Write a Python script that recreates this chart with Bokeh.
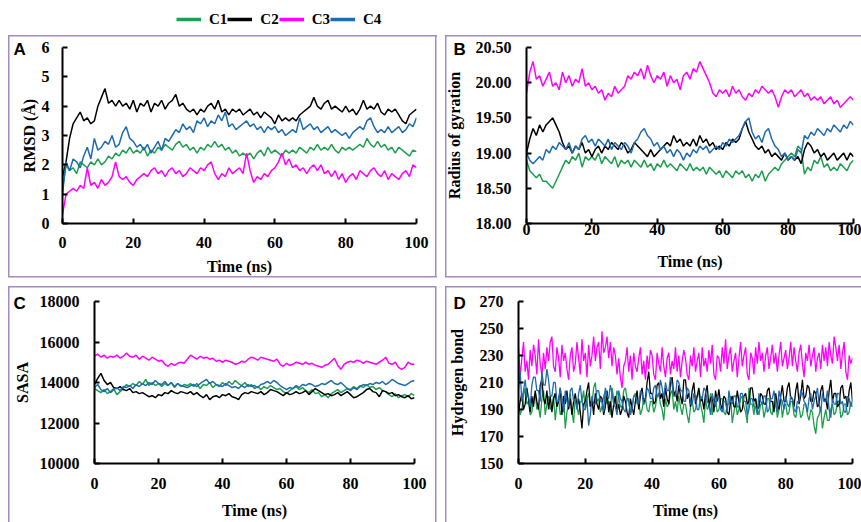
from bokeh.plotting import figure
from bokeh.layouts import column, row
from bokeh.models import Range1d, FixedTicker, Legend, LegendItem
from bokeh.embed import file_html
from bokeh.resources import INLINE

# ---------------- data ----------------
time_ns = list(range(0, 101))                 # 1 ns steps (panels A-C)
time_hb = [i * 0.5 for i in range(201)]       # 0.5 ns steps (panel D)
series_names = ["C1", "C2", "C3", "C4"]
series_colors = ["#1e9e4f", "#000000", "#ff00ff", "#1f6bb0"]

x_ticks = [0, 20, 40, 60, 80, 100]
x_tick_labels = ["0", "20", "40", "60", "80", "100"]

# Panel A : RMSD
rmsd_ticks = [0, 1, 2, 3, 4, 5, 6]
rmsd_tick_labels = ["0", "1", "2", "3", "4", "5", "6"]
rmsd_c1 = [1.2, 2.0, 1.8, 1.9, 1.7, 2.1, 2.0, 1.9, 2.1, 2.0, 2.2, 2.0, 2.1, 2.3, 2.2, 2.4, 2.3, 2.5, 2.4, 2.6,
           2.4, 2.5, 2.4, 2.6, 2.3, 2.5, 2.4, 2.6, 2.5, 2.7, 2.6, 2.5, 2.7, 2.8, 2.6, 2.7, 2.5, 2.6, 2.4, 2.6,
           2.5, 2.7, 2.6, 2.8, 2.6, 2.7, 2.5, 2.6, 2.4, 2.5, 2.3, 2.4, 2.3, 2.4, 2.2, 2.4, 2.5, 2.3, 2.6, 2.4,
           2.5, 2.4, 2.3, 2.5, 2.4, 2.5, 2.4, 2.6, 2.5, 2.4, 2.6, 2.5, 2.7, 2.5, 2.6, 2.5, 2.7, 2.5, 2.4, 2.6,
           2.5, 2.6, 2.5, 2.6, 2.7, 2.6, 2.9, 2.7, 2.6, 2.8, 2.6, 2.7, 2.5, 2.6, 2.4, 2.6, 2.5, 2.4, 2.3, 2.5,
           2.45]
rmsd_c2 = [1.6, 2.1, 2.9, 3.4, 3.6, 3.8, 3.5, 3.6, 3.4, 3.5, 4.0, 4.3, 4.6, 4.1, 4.2, 4.0, 4.2, 4.0, 4.1, 3.9,
           4.2, 3.8, 4.1, 4.0, 4.2, 3.8, 4.1, 4.0, 4.2, 3.9, 4.1, 4.2, 4.4, 4.0, 4.1, 3.9, 3.8, 3.9, 3.7, 3.9,
           3.8, 4.0, 4.1, 3.9, 4.2, 3.8, 3.9, 3.7, 3.9, 3.8, 3.9, 3.7, 3.8, 3.9, 3.7, 3.8, 3.6, 3.8, 3.7, 3.6,
           3.4, 3.7, 3.5, 3.6, 3.5, 3.6, 3.5, 3.7, 3.8, 3.9, 4.0, 4.3, 4.0, 3.9, 4.1, 4.2, 3.9, 4.0, 3.9, 3.8,
           4.0, 3.8, 3.9, 3.7, 3.9, 4.2, 3.9, 4.0, 3.9, 4.1, 3.8, 3.7, 3.9, 3.8, 3.9, 3.7, 3.5, 3.4, 3.7, 3.8,
           3.9]
rmsd_c3 = [0.3, 1.0, 1.1, 1.2, 1.1, 1.3, 1.2, 1.9, 1.3, 1.4, 1.2, 1.5, 1.3, 1.4, 1.6, 2.1, 1.6, 1.5, 1.6, 1.4,
           1.3, 1.5, 1.6, 1.7, 1.6, 1.8, 1.9, 1.7, 1.8, 1.6, 1.8, 1.9, 1.7, 1.8, 1.6, 1.7, 1.9, 1.8, 1.7, 1.9,
           1.8, 2.0, 2.1, 1.7, 1.5, 1.7, 1.6, 1.9, 1.7, 1.8, 1.9, 1.7, 2.4, 1.8, 1.4, 1.6, 1.5, 1.7, 1.6, 1.8,
           1.9, 2.1, 2.4, 2.0, 2.2, 1.9, 2.0, 1.8, 1.9, 1.7, 1.9, 2.0, 1.8, 2.0, 1.7, 1.8, 1.6, 1.8, 1.5, 1.7,
           1.4, 1.6, 1.7, 1.5, 1.8, 1.7, 1.6, 1.8, 1.9, 1.7, 1.6, 1.8, 1.5, 1.7, 1.6, 1.5, 1.7, 1.8, 1.6, 2.0,
           1.9]
rmsd_c4 = [1.0, 2.1, 1.8, 2.2, 2.1, 1.9, 2.3, 2.6, 2.2, 2.9, 2.5, 2.6, 2.8, 2.7, 3.0, 2.6, 2.7, 3.1, 3.3, 2.9,
           2.8, 2.6, 2.7, 2.5, 2.7, 2.4, 2.6, 2.8, 2.5, 2.9, 2.8, 3.0, 3.2, 3.1, 3.4, 3.2, 3.3, 3.1, 3.5, 3.4,
           3.6, 3.3, 3.5, 3.4, 3.7, 3.5, 3.8, 3.3, 3.4, 3.2, 3.3, 3.4, 3.5, 3.3, 3.4, 3.2, 3.3, 3.1, 3.3, 3.2,
           3.3, 3.1, 3.2, 3.0, 3.1, 3.2, 3.1, 3.6, 3.2, 3.3, 3.4, 3.2, 3.3, 3.1, 3.2, 3.3, 3.1, 3.2, 3.1, 3.0,
           3.1, 2.9, 3.1, 3.2, 3.3, 3.2, 3.5, 3.6, 3.3, 3.1, 3.2, 3.1, 3.3, 3.1, 3.2, 3.3, 3.1, 3.2, 3.4, 3.3,
           3.6]

# Panel B : radius of gyration
rg_ticks = [18.0, 18.5, 19.0, 19.5, 20.0, 20.5]
rg_tick_labels = ["18.00", "18.50", "19.00", "19.50", "20.00", "20.50"]
rg_c1 = [18.9, 18.75, 18.7, 18.65, 18.7, 18.6, 18.6, 18.55, 18.5, 18.6, 18.7, 18.8, 18.9, 18.85, 18.95, 18.9, 19.0, 18.8, 18.95, 18.9,
         18.95, 18.9, 19.0, 18.85, 18.95, 18.9, 18.85, 18.95, 18.8, 18.9, 18.85, 18.9, 18.8, 18.9, 18.85, 18.8, 18.9, 18.8, 18.85, 18.75,
         18.85, 18.8, 18.9, 18.8, 18.85, 18.8, 18.75, 18.85, 18.8, 18.75, 18.85, 18.75, 18.8, 18.75, 18.8, 18.7, 18.8, 18.75, 18.7, 18.75,
         18.65, 18.75, 18.7, 18.65, 18.75, 18.7, 18.75, 18.65, 18.7, 18.6, 18.7, 18.65, 18.75, 18.6, 18.7, 18.75, 18.8, 18.75, 18.85, 18.9,
         18.95, 19.0, 18.95, 19.1, 19.05, 18.7, 18.8, 18.75, 18.9, 18.85, 18.95, 18.8, 18.85, 18.75, 18.8, 18.75, 18.85, 18.8, 18.75, 18.85,
         18.9]
rg_c2 = [19.0, 19.2, 19.35, 19.25, 19.4, 19.3, 19.4, 19.45, 19.5, 19.4, 19.3, 19.15, 19.05, 19.1, 19.0, 19.1, 19.05, 19.15, 19.0, 19.05,
         18.95, 19.05, 19.1, 19.0, 19.1, 19.05, 19.15, 19.1, 19.05, 19.15, 19.1, 19.0, 19.05, 19.15, 19.1, 19.05, 19.0, 18.95, 19.05, 18.95,
         19.0, 19.05, 19.1, 19.15, 19.1, 19.25, 19.15, 19.2, 19.1, 19.15, 19.1, 19.2, 19.1, 19.25, 19.15, 19.2, 19.1, 19.15, 19.05, 19.1,
         19.05, 19.15, 19.1, 19.2, 19.15, 19.2, 19.35, 19.45, 19.3, 19.2, 19.1, 19.05, 19.1, 19.0, 19.05, 18.95, 19.0, 18.95, 18.9, 19.0,
         18.9, 18.95, 18.9, 18.95, 18.85, 19.05, 19.15, 19.1, 19.0, 19.05, 18.95, 19.0, 18.9, 18.95, 19.0, 18.9, 18.95, 19.0, 18.9, 19.0,
         18.95]
rg_c3 = [19.85, 20.15, 20.3, 20.05, 20.1, 19.95, 20.05, 20.15, 19.95, 20.0, 19.9, 20.15, 20.0, 20.1, 19.95, 20.05, 20.0, 20.2, 19.95, 20.0,
         19.9, 19.95, 19.85, 19.9, 19.75, 19.85, 19.8, 19.95, 19.85, 19.9, 19.95, 20.1, 20.05, 20.15, 20.1, 20.2, 20.05, 20.25, 20.1, 20.0,
         20.1, 20.05, 20.15, 19.95, 20.1, 20.0, 20.05, 19.9, 20.1, 20.15, 20.05, 20.2, 20.15, 20.3, 20.2, 20.1, 20.0, 19.85, 19.8, 19.9,
         19.85, 19.9, 19.8, 19.95, 19.85, 19.9, 19.8, 19.75, 19.85, 19.8, 19.9, 19.85, 19.95, 19.9, 19.85, 19.9, 19.8, 19.65, 19.8, 19.9,
         19.85, 19.9, 19.8, 19.85, 19.9, 19.8, 19.85, 19.75, 19.8, 19.75, 19.8, 19.7, 19.75, 19.8, 19.7, 19.75, 19.65, 19.7, 19.75, 19.8,
         19.75]
rg_c4 = [19.0, 18.9, 18.85, 18.9, 18.95, 18.9, 19.05, 19.0, 19.1, 19.05, 19.15, 19.1, 19.05, 19.15, 19.0, 19.1, 19.05, 19.2, 19.25, 19.15,
         19.2, 19.1, 19.2, 19.15, 19.1, 19.2, 19.05, 19.15, 19.1, 19.05, 19.15, 19.1, 19.0, 19.15, 19.2, 19.3, 19.35, 19.25, 19.2, 19.1,
         19.15, 19.05, 19.1, 19.0, 19.05, 18.95, 19.05, 19.0, 18.9, 19.0, 18.95, 19.05, 19.0, 19.1, 19.05, 19.1, 19.0, 19.05, 19.1, 19.05,
         19.15, 19.1, 19.2, 19.15, 19.2, 19.25, 19.35, 19.45, 19.5, 19.3, 19.2, 19.25, 19.15, 19.3, 19.35, 19.2, 19.1, 19.05, 18.95, 19.0,
         18.9, 18.95, 18.9, 19.05, 19.0, 19.25, 19.2, 19.3, 19.25, 19.35, 19.3, 19.25, 19.35, 19.3, 19.4, 19.35, 19.3, 19.4, 19.35, 19.45,
         19.4]

# Panel C : SASA
sasa_ticks = [10000, 12000, 14000, 16000, 18000]
sasa_tick_labels = ["10000", "12000", "14000", "16000", "18000"]
sasa_c1 = [13700, 13600, 13500, 13650, 13450, 13550, 13700, 13400, 13550, 13700, 13900, 13800, 13950, 13850, 14050, 13900, 14150, 13850, 14000, 13850,
           13950, 13800, 13950, 13850, 14000, 13750, 13950, 13800, 13900, 13850, 13950, 13800, 13950, 13700, 13900, 13850, 14000, 13750, 13900, 13800,
           14000, 13850, 14050, 13900, 14100, 13950, 13850, 14000, 13800, 13900, 13700, 13800, 13650, 13800, 13700, 13850, 13750, 13650, 13700, 13550,
           13450, 13600, 13700, 13800, 13650, 13750, 13600, 13500, 13650, 13450, 13500, 13300, 13400, 13250, 13450, 13550, 13650, 13500, 13600, 13700,
           13650, 13800, 13700, 13850, 13750, 13900, 13750, 13800, 13650, 13750, 13600, 13550, 13400, 13300, 13450, 13250, 13350, 13400, 13300, 13450,
           13350]
sasa_c2 = [13900, 14200, 14450, 14100, 13900, 14000, 13750, 13700, 13800, 13650, 13600, 13700, 13500, 13550, 13450, 13500, 13400, 13300, 13350, 13250,
           13400, 13350, 13500, 13450, 13600, 13500, 13450, 13550, 13500, 13450, 13550, 13400, 13500, 13350, 13250, 13400, 13150, 13300, 13350, 13250,
           13400, 13350, 13450, 13300, 13250, 13150, 13400, 13500, 13450, 13550, 13500, 13450, 13550, 13400, 13500, 13650, 13600, 13550, 13450, 13350,
           13500, 13400, 13450, 13550, 13450, 13500, 13600, 13400, 13550, 13700, 13600, 13500, 13400, 13450, 13350, 13400, 13500, 13350, 13450, 13550,
           13400, 13250, 13300, 13400, 13500, 13650, 13700, 13550, 13500, 13300, 13600, 13550, 13450, 13500, 13350, 13400, 13300, 13250, 13350, 13200,
           13250]
sasa_c3 = [15300, 15400, 15250, 15350, 15200, 15300, 15250, 15350, 15200, 15300, 15450, 15300, 15250, 15350, 15150, 15300, 15200, 15100, 15250, 15150,
           15050, 15100, 14900, 14800, 14950, 14850, 14950, 15000, 14950, 15150, 15350, 15250, 15150, 15300, 15200, 15250, 15150, 15200, 15050, 15100,
           15000, 15100, 15050, 15000, 14900, 14950, 15050, 15000, 15150, 15250, 15200, 15100, 15250, 15200, 15150, 15100, 15050, 15150, 14900, 14800,
           14950, 14850, 14900, 15000, 14950, 14900, 15000, 14900, 14950, 14850, 14800, 14750, 14850, 14900, 15050, 15200, 14850, 14650, 14900, 15000,
           15050, 15000, 15100, 15050, 14950, 15050, 15000, 14950, 14900, 15000, 15100, 15250, 14950, 14900, 15000, 14750, 14650, 14750, 15000, 14900,
           14900]
sasa_c4 = [13750, 13900, 13650, 13550, 13700, 13500, 13650, 13750, 13600, 13800, 13750, 13850, 13700, 13900, 13800, 13950, 13850, 14000, 13900, 14100,
           13950, 13900, 14050, 13850, 14000, 13800, 13950, 13850, 13800, 13750, 13850, 13900, 13800, 13950, 14050, 14150, 13950, 14050, 13900, 13850,
           13800, 13950, 13850, 13750, 13800, 13700, 13850, 13750, 13900, 13800, 13850, 13750, 13900, 13950, 14050, 13950, 14100, 14000, 13850, 13750,
           13650, 13750, 13700, 13850, 13750, 13900, 13850, 13950, 13900, 13800, 13850, 13950, 13900, 14000, 14100, 13950, 13900, 14000, 13850, 13700,
           13600, 13750, 13650, 13800, 13900, 13850, 13950, 13900, 14000, 13950, 14050, 13900, 14000, 14150, 14050, 13950, 13900, 13850, 13950, 14050,
           14100]

# Panel D : hydrogen bonds (0.5 ns steps)
hb_ticks = [150, 170, 190, 210, 230, 250, 270]
hb_tick_labels = ["150", "170", "190", "210", "230", "250", "270"]
hb_c1 = [195, 186, 190, 200, 206, 194, 196, 186, 188, 198, 202, 190, 192, 184, 198, 204, 186, 194, 200, 190,
         192, 200, 182, 194, 198, 186, 190, 200, 176, 188, 194, 202, 188, 180, 200, 192, 186, 196, 196, 204,
         190, 198, 202, 192, 194, 206, 210, 196, 198, 188, 192, 200, 204, 194, 196, 186, 206, 198, 194, 204,
         200, 192, 192, 204, 206, 198, 196, 188, 192, 200, 202, 194, 196, 186, 190, 198, 198, 190, 188, 196,
         196, 188, 192, 200, 202, 194, 190, 182, 198, 192, 194, 202, 204, 190, 196, 188, 200, 192, 186, 194,
         194, 186, 180, 192, 196, 188, 190, 200, 202, 194, 188, 180, 198, 190, 192, 202, 186, 194, 196, 188,
         190, 198, 198, 188, 186, 194, 194, 200, 180, 188, 196, 186, 190, 198, 200, 192, 188, 180, 206, 194,
         194, 186, 198, 190, 186, 194, 194, 184, 190, 198, 198, 188, 186, 196, 196, 184, 190, 198, 184, 192,
         194, 186, 188, 196, 196, 186, 184, 192, 192, 184, 186, 194, 194, 186, 182, 190, 188, 178, 172, 184,
         186, 192, 176, 184, 190, 182, 182, 190, 194, 186, 188, 196, 196, 184, 186, 194, 194, 186, 188, 196,
         192]
hb_c2 = [188, 196, 202, 190, 194, 206, 198, 188, 200, 192, 204, 196, 190, 208, 212, 198, 194, 204, 190, 200,
         188, 198, 202, 192, 196, 206, 186, 200, 194, 204, 190, 198, 186, 196, 202, 192, 198, 188, 176, 194,
         196, 204, 210, 192, 198, 186, 202, 194, 190, 200, 198, 186, 192, 204, 188, 196, 184, 194, 200, 188,
         194, 186, 190, 200, 196, 188, 184, 198, 192, 186, 196, 204, 190, 200, 206, 194, 198, 210, 218, 202,
         202, 194, 196, 208, 210, 198, 202, 192, 206, 198, 194, 210, 214, 200, 204, 196, 208, 200, 194, 212,
         212, 198, 202, 192, 204, 210, 194, 200, 206, 196, 198, 190, 202, 208, 192, 198, 200, 188, 204, 196,
         205, 194, 190, 200, 198, 188, 186, 196, 200, 192, 192, 204, 196, 188, 190, 200, 202, 194, 196, 206,
         206, 196, 198, 190, 192, 202, 200, 194, 194, 204, 206, 196, 196, 188, 202, 194, 190, 200, 208, 196,
         196, 206, 210, 198, 198, 192, 204, 210, 194, 200, 212, 198, 200, 208, 206, 196, 196, 204, 202, 192,
         194, 204, 208, 196, 198, 190, 204, 212, 196, 202, 202, 192, 194, 206, 208, 198, 200, 192, 204, 210,
         196]
hb_c3 = [236, 214, 228, 240, 218, 226, 212, 234, 222, 238, 230, 216, 242, 224, 215, 232, 220, 236, 226, 240,
         244, 222, 218, 236, 228, 214, 238, 226, 232, 220, 212, 230, 236, 218, 224, 240, 228, 216, 242, 226,
         232, 214, 238, 222, 230, 244, 226, 236, 240, 220, 248, 232, 236, 244, 228, 240, 222, 236, 230, 216,
         228, 214, 206, 222, 226, 236, 218, 230, 212, 232, 222, 218, 228, 236, 216, 226, 212, 230, 220, 234,
         230, 216, 212, 232, 224, 218, 236, 222, 214, 228, 232, 216, 226, 220, 236, 218, 230, 214, 226, 234,
         228, 216, 212, 230, 222, 236, 218, 226, 232, 214, 236, 222, 228, 218, 234, 224, 238, 216, 212, 230,
         228, 218, 236, 224, 242, 220, 230, 236, 218, 226, 232, 214, 228, 240, 222, 230, 236, 216, 212, 232,
         228, 216, 236, 224, 240, 226, 232, 218, 230, 236, 220, 228, 238, 224, 232, 218, 230, 240, 222, 228,
         234, 220, 228, 240, 222, 236, 226, 218, 232, 238, 224, 214, 232, 226, 238, 222, 230, 236, 218, 228,
         232, 220, 238, 226, 236, 222, 240, 230, 224, 244, 236, 226, 238, 220, 232, 240, 218, 212, 230, 224,
         228]
hb_c4 = [205, 218, 196, 204, 212, 200, 200, 192, 208, 214, 214, 204, 204, 196, 218, 208, 208, 220, 212, 200,
         200, 210, 210, 196, 196, 206, 198, 188, 204, 196, 192, 204, 206, 196, 198, 190, 202, 208, 196, 190,
         190, 198, 178, 186, 200, 194, 194, 204, 204, 196, 196, 188, 206, 200, 198, 208, 202, 194, 192, 186,
         204, 198, 196, 190, 188, 198, 198, 186, 190, 200, 200, 196, 194, 204, 202, 194, 196, 206, 204, 198,
         198, 206, 208, 200, 200, 212, 206, 198, 210, 204, 204, 214, 208, 200, 200, 212, 210, 204, 204, 196,
         196, 206, 204, 194, 194, 202, 200, 190, 190, 200, 198, 206, 204, 196, 194, 186, 202, 196, 192, 200,
         198, 190, 188, 196, 196, 188, 204, 196, 194, 200, 200, 192, 192, 202, 202, 196, 196, 186, 190, 198,
         198, 192, 192, 186, 202, 196, 194, 200, 200, 188, 190, 198, 198, 204, 194, 188, 204, 198, 196, 190,
         200, 194, 192, 200, 198, 190, 188, 196, 196, 204, 202, 196, 194, 188, 198, 202, 190, 196, 200, 206,
         194, 188, 202, 196, 196, 204, 190, 184, 198, 194, 194, 202, 202, 194, 196, 188, 188, 200, 198, 192,
         196]

# ---------------- styling ----------------
SERIF = "Liberation Serif"
SANS = "Liberation Sans"
BC = "#a38bbd"


def seg(x, y, w, h):
    return f"linear-gradient({BC},{BC}) {x}px {y}px / {w}px {h}px no-repeat"


def make_panel(width, height, fl, fr, ft, fb, yr, yticks, ylabels, ylabel, xs, series, letter, letter_off,
               ytick_standoff, ylab_standoff, xtick_standoff, xlab_standoff, border_segs, lw=1.5):
    p = figure(width=width, height=height, output_backend="svg", toolbar_location=None,
               x_range=Range1d(0, 100), y_range=Range1d(*yr),
               min_border_left=fl, min_border_right=fr, min_border_top=ft, min_border_bottom=fb,
               styles={"background": ", ".join(border_segs)})
    p.outline_line_color = None
    p.grid.visible = False
    p.background_fill_color = None
    p.border_fill_color = None
    for vals, col in zip(series, series_colors):
        p.line(xs, vals, line_color=col, line_width=lw)

    p.title.text = letter
    p.title.align = "left"
    p.title.offset = letter_off
    p.title.standoff = -22
    p.title.text_font = SANS
    p.title.text_font_style = "bold"
    p.title.text_font_size = "17px"
    p.title.text_color = "black"

    p.xaxis.ticker = FixedTicker(ticks=x_ticks)
    p.xaxis.major_label_overrides = dict(zip(x_ticks, x_tick_labels))
    p.yaxis.ticker = FixedTicker(ticks=yticks)
    p.yaxis.major_label_overrides = dict(zip(yticks, ylabels))
    p.xaxis.axis_label = "Time (ns)"
    p.yaxis.axis_label = ylabel
    for ax in (p.xaxis, p.yaxis):
        ax.axis_line_color = "black"
        ax.axis_line_width = 2
        ax.major_tick_line_color = "black"
        ax.major_tick_line_width = 2
        ax.major_tick_in = 5
        ax.major_tick_out = 0
        ax.minor_tick_line_color = None
        ax.major_label_text_font = SERIF
        ax.major_label_text_font_style = "bold"
        ax.major_label_text_font_size = "16px"
        ax.major_label_text_color = "black"
        ax.axis_label_text_font = SERIF
        ax.axis_label_text_font_style = "bold"
        ax.axis_label_text_font_size = "16px"
        ax.axis_label_text_color = "black"
    p.yaxis.major_label_standoff = ytick_standoff
    p.yaxis.axis_label_standoff = ylab_standoff
    p.xaxis.major_label_standoff = xtick_standoff
    p.xaxis.axis_label_standoff = xlab_standoff
    return p


# figure cells: top row y 35..281, bottom row y 281..522 ; columns x 0..441, 441..861
pA = make_panel(441, 246, 62, 25, 12, 58, (0, 6), rmsd_ticks, rmsd_tick_labels, "RMSD (Å)",
                time_ns, [rmsd_c1, rmsd_c2, rmsd_c3, rmsd_c4], "A", -49, 13, 1, 13, 7,
                [seg(8, 0, 1.5, 242), seg(8, 0, 429, 1.5), seg(435, 0, 1.5, 242), seg(8, 240.5, 429, 1.5)])
pB = make_panel(420, 246, 85, 8, 12, 58, (18, 20.5), rg_ticks, rg_tick_labels, "Radius of gyration",
                time_ns, [rg_c1, rg_c2, rg_c3, rg_c4], "B", -73, 15, 10, 0, 15,
                [seg(4, 0, 1.5, 242), seg(4, 0, 420, 1.5), seg(4, 240.5, 420, 1.5)])
pC = make_panel(441, 241, 94, 27, 20, 59, (10000, 18000), sasa_ticks, sasa_tick_labels, "SASA",
                time_ns, [sasa_c1, sasa_c2, sasa_c3, sasa_c4], "C", -81, 15, 6, 14, 10,
                [seg(8, 4.5, 1.5, 240), seg(8, 4.5, 428, 1.5), seg(434.5, 4.5, 1.5, 240)])
pD = make_panel(420, 241, 77, 9, 20, 59, (150, 270), hb_ticks, hb_tick_labels, "Hydrogen bond",
                time_hb, [hb_c1, hb_c2, hb_c3, hb_c4], "D", -65, 15, 11, 14, 10,
                [seg(4, 4.5, 1.5, 240), seg(4, 4.5, 420, 1.5)], lw=1.3)

# legend strip (its lines fall outside its own y range, only the legend is seen)
lf = figure(width=861, height=35, output_backend="svg", toolbar_location=None,
            x_range=Range1d(0, 100), y_range=Range1d(-20, -10),
            x_axis_location=None, y_axis_location=None,
            min_border_left=0, min_border_right=0, min_border_top=0, min_border_bottom=0)
lf.outline_line_color = None
lf.grid.visible = False
lf.border_fill_color = None
lf.background_fill_color = None
items = []
for name, col, vals in zip(series_names, series_colors, [rmsd_c1, rmsd_c2, rmsd_c3, rmsd_c4]):
    r = lf.line(time_ns, vals, line_color=col, line_width=3.5)
    items.append(LegendItem(label=name, renderers=[r]))
leg = Legend(items=items, orientation="horizontal", location=(176, 6),
             label_text_font=SERIF, label_text_font_style="bold", label_text_font_size="15px",
             label_text_color="black",
             glyph_width=25, glyph_height=20, label_standoff=8, label_width=10, spacing=0,
             padding=0, margin=0, border_line_color=None, background_fill_alpha=0)
lf.add_layout(leg)

layout = column(lf, row(pA, pB), row(pC, pD))

with open("out.html", "w") as f:
    f.write(file_html(layout, INLINE))
